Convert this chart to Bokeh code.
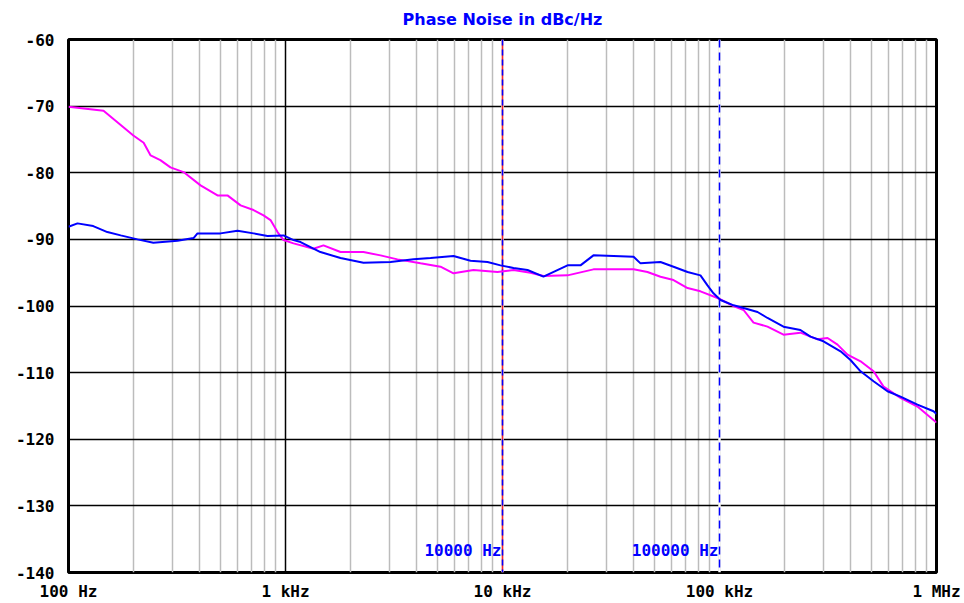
from bokeh.plotting import figure
from bokeh.models import FixedTicker, Span, Label, Range1d
from bokeh.embed import file_html
from bokeh.resources import INLINE

# ---- data ----
magenta_freq = [100, 145, 199, 222, 239, 265, 295, 339, 406, 486, 540, 621, 712, 792, 853, 919,
                979, 1089, 1346, 1496, 1793, 2287, 2740, 3281, 4190, 5180, 5946, 7350, 9480,
                11240, 13460, 15450, 19940, 26250, 31460, 40180, 46560, 53460, 61380, 71240,
                81700, 97900, 116100, 129100, 143500, 166400, 197200, 236000, 283000, 314700,
                349800, 389000, 446700, 512700, 570000, 682300, 817000, 1000000]
magenta_db = [-70.1, -70.7, -74.4, -75.5, -77.4, -78.1, -79.2, -79.9, -81.9, -83.4, -83.4, -84.9,
              -85.6, -86.4, -87.1, -88.9, -90.1, -90.6, -91.4, -90.9, -91.9, -91.9, -92.4, -93.0,
              -93.6, -94.1, -95.1, -94.6, -94.9, -94.6, -95.0, -95.5, -95.4, -94.5, -94.5, -94.5,
              -94.9, -95.6, -96.1, -97.3, -97.8, -98.8, -100.0, -100.6, -102.5, -103.1, -104.3,
              -104.0, -105.0, -104.8, -105.8, -107.3, -108.3, -109.8, -112.1, -113.8, -115.1,
              -117.5]

blue_freq = [100, 110, 130, 151, 174, 208, 246, 318, 377, 393, 502, 601, 712, 826, 979, 1089,
             1173, 1449, 1793, 2287, 3048, 3890, 4660, 5946, 7123, 8530, 9790, 11240, 13040,
             15450, 19940, 22870, 26250, 32490, 40180, 43250, 53460, 61380, 71240, 81700,
             88040, 93800, 101100, 116100, 129100, 149700, 166400, 197200, 236000, 262500,
             301400, 361300, 401500, 446700, 512700, 594300, 682300, 817000, 968600, 1000000]
blue_db = [-88.1, -87.6, -88.0, -88.9, -89.4, -90.0, -90.5, -90.2, -89.8, -89.1, -89.1, -88.7,
           -89.1, -89.5, -89.4, -90.1, -90.4, -91.9, -92.8, -93.5, -93.4, -93.0, -92.8, -92.5,
           -93.2, -93.4, -93.9, -94.3, -94.6, -95.6, -93.9, -93.9, -92.4, -92.5, -92.6, -93.6,
           -93.4, -94.1, -94.9, -95.4, -96.9, -98.1, -99.1, -99.9, -100.3, -100.9, -101.8,
           -103.1, -103.6, -104.6, -105.3, -106.8, -108.1, -109.8, -111.3, -112.8, -113.6,
           -114.8, -115.8, -116.2]

x_ticks = [100, 1000, 10000, 100000, 1000000]
x_tick_labels = ["100 Hz", "1 kHz", "10 kHz", "100 kHz", "1 MHz"]
x_minor = [m * d for d in [100, 1000, 10000, 100000] for m in range(2, 10)]
y_ticks = [-140, -130, -120, -110, -100, -90, -80, -70, -60]

markers = [10000, 100000]
marker_labels = ["10000 Hz", "100000 Hz"]
title_text = "Phase Noise in dBc/Hz"

BLUE = "#0000ff"
MAGENTA = "#ff00ff"
MONO = "DejaVu Sans Mono"

p = figure(width=964, height=603, x_axis_type="log", output_backend="svg",
           toolbar_location=None, x_range=Range1d(100, 1000000), y_range=Range1d(-140, -60),
           min_border_left=68, min_border_right=28, min_border_top=39, min_border_bottom=30)

p.title.text = title_text
p.title.align = "center"
p.title.vertical_align = "top"
p.title.text_color = BLUE
p.title.text_font = "DejaVu Sans"
p.title.text_font_size = "16px"
p.title.text_font_style = "bold"
p.title.standoff = 18

p.outline_line_color = "black"
p.outline_line_width = 3

# axes
p.xaxis.ticker = FixedTicker(ticks=x_ticks)
p.xaxis.major_label_overrides = {t: l for t, l in zip(x_ticks, x_tick_labels)}
p.yaxis.ticker = FixedTicker(ticks=y_ticks)
p.yaxis.major_label_overrides = {t: "-" + str(-t) for t in y_ticks}
for ax in (p.xaxis[0], p.yaxis[0]):
    ax.axis_line_color = None
    ax.major_tick_line_color = None
    ax.minor_tick_line_color = None
    ax.major_tick_out = 0
    ax.major_tick_in = 0
    ax.minor_tick_out = 0
    ax.minor_tick_in = 0
    ax.major_label_text_font = MONO
    ax.major_label_text_font_size = "16px"
    ax.major_label_text_font_style = "bold"
    ax.major_label_text_color = "black"
p.xaxis.major_label_standoff = 9
p.yaxis.major_label_standoff = 14

# grids
p.xgrid.ticker = FixedTicker(ticks=x_ticks, minor_ticks=x_minor)
p.xgrid.grid_line_color = "black"
p.xgrid.grid_line_width = 1.5
p.xgrid.minor_grid_line_color = "#bcbcbc"
p.xgrid.minor_grid_line_width = 1.5
p.ygrid.ticker = FixedTicker(ticks=y_ticks)
p.ygrid.grid_line_color = "black"
p.ygrid.grid_line_width = 1.5

# markers (drawn under the traces, covering the decade grid line)
for m in markers:
    p.add_layout(Span(location=m, dimension="height", line_color="white", line_width=2.5,
                      level="underlay"))
p.add_layout(Span(location=markers[0], dimension="height", line_color="#ff2020", line_width=1.5,
                  level="underlay"))
p.add_layout(Span(location=markers[0], dimension="height", line_color=BLUE, line_width=1.5,
                  line_dash="6 4", level="underlay"))
p.add_layout(Span(location=markers[1], dimension="height", line_color=BLUE, line_width=1.5,
                  line_dash="8 5", level="underlay"))
for m, lab in zip(markers, marker_labels):
    p.add_layout(Label(x=m, y=-136.7, text=lab, text_align="right", text_baseline="middle",
                       x_offset=-1, text_color=BLUE, text_font=MONO, text_font_size="16px",
                       text_font_style="bold"))

# traces
p.line(magenta_freq, magenta_db, line_color=MAGENTA, line_width=2)
p.line(blue_freq, blue_db, line_color=BLUE, line_width=2)

open("out.html", "w").write(file_html(p, INLINE))
